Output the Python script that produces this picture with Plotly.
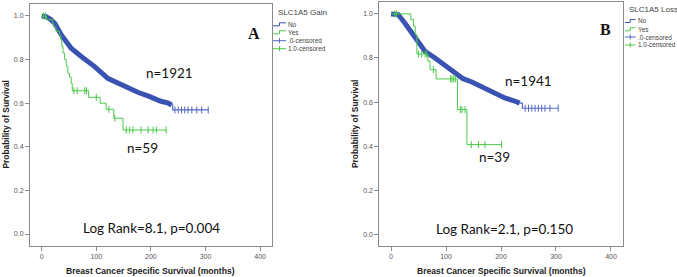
import plotly.graph_objects as go

# ---------------- data ----------------
# Panel A : SLC1A5 Gain
gain_no_t = [0, 8, 16, 24, 36, 54, 73, 97, 121, 146, 176, 198, 207, 217, 232, 238, 240, 305]
gain_no_s = [1.0, 0.997, 0.985, 0.966, 0.913, 0.852, 0.813, 0.768, 0.714, 0.683, 0.650, 0.630,
             0.619, 0.610, 0.600, 0.592, 0.569, 0.569]
gain_no_cens = [244, 250, 256, 262, 268, 275, 284, 293, 305]
gain_yes_t = [0, 9, 20, 22, 26, 33, 35, 37, 39, 42, 45, 48, 51, 54, 56, 86, 107, 118, 132, 149, 228]
gain_yes_s = [1.0, 0.983, 0.966, 0.95, 0.93, 0.913, 0.89, 0.86, 0.83, 0.80, 0.77, 0.737, 0.72,
              0.69, 0.657, 0.627, 0.60, 0.572, 0.531, 0.477, 0.477]
gain_yes_cens = [3, 7, 59, 65, 79, 82, 100, 123, 134, 155, 161, 167, 182, 195, 204, 210, 228]

# Panel B : SLC1A5 Loss
loss_no_t = [0, 13, 25, 44, 62, 80, 98, 116, 131, 147, 171, 195, 207, 222, 234, 239, 304]
loss_no_s = [1.0, 0.997, 0.959, 0.891, 0.83, 0.80, 0.767, 0.74, 0.706, 0.691, 0.664, 0.631,
             0.619, 0.607, 0.595, 0.572, 0.572]
loss_no_cens = [244, 250, 256, 262, 268, 274, 280, 289, 304]
loss_yes_t = [0, 36, 41, 44, 47, 67, 71, 82, 121, 138, 201]
loss_yes_s = [1.0, 0.974, 0.944, 0.906, 0.818, 0.785, 0.747, 0.705, 0.566, 0.407, 0.407]
loss_yes_cens = [7, 10, 50, 56, 62, 65, 77, 108, 111, 114, 117, 126, 129, 134.5, 146, 159, 171, 201]

x_ticks = [0, 100, 200, 300, 400]
y_ticks = [0.0, 0.2, 0.4, 0.6, 0.8, 1.0]
legend_titles = ["SLC1A5 Gain", "SLC1A5 Loss"]
legend_labels = ["No", "Yes", ".0-censored", "1.0-censored"]
n_labels = [("n=1921", "n=59"), ("n=1941", "n=39")]
logrank_labels = ["Log Rank=8.1, p=0.004", "Log Rank=2.1, p=0.150"]
panel_letters = ["A", "B"]
x_title = "Breast Cancer Specific Survival (months)"
y_title = "Probability of Survival"

# ---------------- layout helpers ----------------
W, H = 677, 277
def fx(x):
    return x / W
def fy(y):
    return 1 - y / H

BLUE = "#3A52B2"
BLUE_T = "#5468C6"
GREEN = "#4CC94C"
FRAME = "#8a8a8a"

def step_val(ts, ss, t):
    v = ss[0]
    for a, b in zip(ts, ss):
        if a <= t:
            v = b
    return v

fig = go.Figure()

panels = [
    dict(xa="x", ya="y", no_t=gain_no_t, no_s=gain_no_s, no_c=gain_no_cens,
         yes_t=gain_yes_t, yes_s=gain_yes_s, yes_c=gain_yes_cens),
    dict(xa="x2", ya="y2", no_t=loss_no_t, no_s=loss_no_s, no_c=loss_no_cens,
         yes_t=loss_yes_t, yes_s=loss_yes_s, yes_c=loss_yes_cens),
]

for p in panels:
    nt, ns = p["no_t"], p["no_s"]
    # dense part of the "No" curve (thick due to many censor marks)
    fig.add_trace(go.Scatter(x=nt[:-2], y=ns[:-2], mode="lines", xaxis=p["xa"], yaxis=p["ya"],
                             line=dict(color=BLUE, width=5), showlegend=False, hoverinfo="skip"))
    # sparse tail
    fig.add_trace(go.Scatter(x=nt[-3:], y=ns[-3:], mode="lines", line_shape="hv",
                             xaxis=p["xa"], yaxis=p["ya"],
                             line=dict(color=BLUE_T, width=1.2), showlegend=False, hoverinfo="skip"))
    fig.add_trace(go.Scatter(x=p["no_c"], y=[step_val(nt, ns, t) for t in p["no_c"]], mode="markers",
                             xaxis=p["xa"], yaxis=p["ya"],
                             marker=dict(symbol="line-ns", size=5, line=dict(width=1, color=BLUE_T)),
                             showlegend=False, hoverinfo="skip"))
    yt, ys = p["yes_t"], p["yes_s"]
    fig.add_trace(go.Scatter(x=yt, y=ys, mode="lines", line_shape="hv", xaxis=p["xa"], yaxis=p["ya"],
                             line=dict(color=GREEN, width=1), showlegend=False, hoverinfo="skip"))
    fig.add_trace(go.Scatter(x=p["yes_c"], y=[step_val(yt, ys, t) for t in p["yes_c"]], mode="markers",
                             xaxis=p["xa"], yaxis=p["ya"],
                             marker=dict(symbol="line-ns", size=5, line=dict(width=1, color=GREEN)),
                             showlegend=False, hoverinfo="skip"))

axis_common = dict(showline=True, mirror=True, linecolor=FRAME, linewidth=1, showgrid=False,
                   zeroline=False, ticks="outside", ticklen=4, tickcolor=FRAME,
                   tickfont=dict(family="Liberation Sans, Arial", size=7, color="#555"))

fig.update_layout(
    width=W, height=H, autosize=False,
    margin=dict(l=0, r=0, t=0, b=0),
    paper_bgcolor="white", plot_bgcolor="white",
    showlegend=False,
    xaxis=dict(domain=[fx(30), fx(272)], range=[-21.4, 421.8], tickvals=x_ticks,
               anchor="y", **axis_common),
    yaxis=dict(domain=[fy(246), fy(4)], range=[-0.055, 1.055], tickvals=y_ticks, tickformat=".1f",
               anchor="x", **axis_common),
    xaxis2=dict(domain=[fx(379.3), fx(622.7)], range=[-21.3, 421.3], tickvals=x_ticks,
                anchor="y2", **axis_common),
    yaxis2=dict(domain=[fy(246), fy(2)], range=[-0.053, 1.054], tickvals=y_ticks, tickformat=".1f",
                anchor="x2", **axis_common),
)

annotations = []
shapes = []

def ann(text, x, y, size, family="Lato", color="#111", bold=False, angle=0, xanchor="center"):
    annotations.append(dict(text=("<b>%s</b>" % text) if bold else text, x=fx(x), y=fy(y),
                            xref="paper", yref="paper", xanchor=xanchor, yanchor="middle",
                            showarrow=False, textangle=angle,
                            font=dict(family=family, size=size, color=color)))

# big in-plot texts
ann(n_labels[0][0], 169, 72.7, 13.5)
ann(n_labels[0][1], 142.2, 148.3, 13.5)
ann(logrank_labels[0], 151.7, 227.7, 13.5)
ann(n_labels[1][0], 528.8, 81, 13.5)
ann(n_labels[1][1], 494.7, 157.3, 13.5)
ann(logrank_labels[1], 504.5, 229, 13.5)
ann(panel_letters[0], 253.5, 33.5, 16, family="Liberation Serif, Times New Roman", bold=True)
ann(panel_letters[1], 605, 29.5, 16, family="Liberation Serif, Times New Roman", bold=True)

# axis titles
ann(x_title, 150.8, 271, 8.6, family="Liberation Sans, Arial", color="#222", bold=True)
ann(x_title, 501, 271, 8.6, family="Liberation Sans, Arial", color="#222", bold=True)
ann(y_title, 5.5, 125, 8.4, family="Liberation Sans, Arial", color="#222", bold=True, angle=-90)
ann(y_title, 355, 124, 8.4, family="Liberation Sans, Arial", color="#222", bold=True, angle=-90)

# manual legends
leg_specs = [
    dict(title=legend_titles[0], tx=276, ty=12.3, sx0=273, sx1=286, ys=[24.3, 32.3, 40.7, 48.7]),
    dict(title=legend_titles[1], tx=626.5, ty=9.3, sx0=625, sx1=635.5, ys=[21, 29.3, 37, 45]),
]
leg_colors = [BLUE, GREEN, BLUE_T, GREEN]
for L in leg_specs:
    ann(L["title"], L["tx"], L["ty"], 8, family="Liberation Sans, Arial", color="#444", xanchor="left")
    for i, (lab, y) in enumerate(zip(legend_labels, L["ys"])):
        c = leg_colors[i]
        x0, x1 = L["sx0"], L["sx1"]
        xm = (x0 + x1) / 2
        if i < 2:
            path = "M %f,%f L %f,%f L %f,%f L %f,%f" % (
                fx(x0), fy(y + 1.5), fx(xm), fy(y + 1.5), fx(xm), fy(y - 1.5), fx(x1), fy(y - 1.5))
            shapes.append(dict(type="path", path=path, xref="paper", yref="paper",
                               line=dict(color=c, width=1)))
        else:
            shapes.append(dict(type="line", x0=fx(x0), x1=fx(x1), y0=fy(y), y1=fy(y),
                               xref="paper", yref="paper", line=dict(color=c, width=1)))
            shapes.append(dict(type="line", x0=fx(xm), x1=fx(xm), y0=fy(y - 2.5), y1=fy(y + 2.5),
                               xref="paper", yref="paper", line=dict(color=c, width=1)))
        ann(lab, x1 + 0.3, y, 6.4, family="Liberation Sans, Arial", color="#444", xanchor="left")

fig.update_layout(annotations=annotations, shapes=shapes)

fig.write_html("out.html", config={"displayModeBar": False},
               post_script="document.body.style.margin='0';document.body.style.overflow='hidden';")
